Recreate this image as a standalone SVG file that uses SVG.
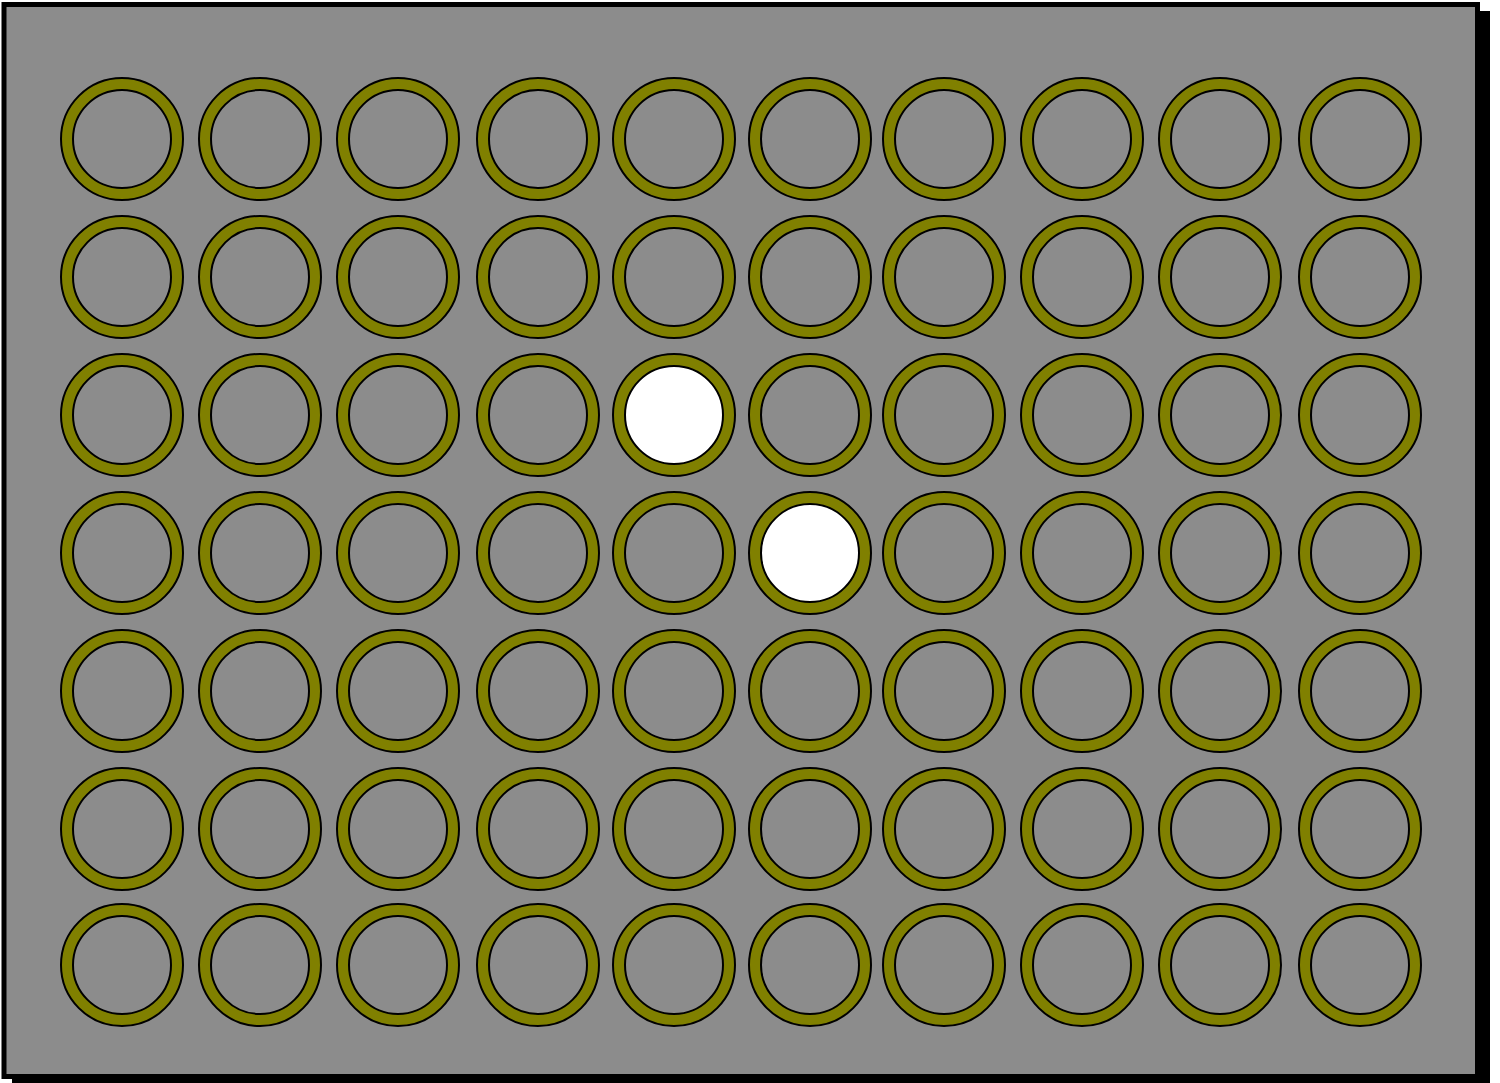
<svg xmlns="http://www.w3.org/2000/svg" width="1500" height="1083" viewBox="0 0 1500 1083">
<style>
.ring{fill:#808000;stroke:#000;stroke-width:2}
.hole{fill:#8c8c8c;stroke:#000;stroke-width:2}
.lit{fill:#ffffff;stroke:#000;stroke-width:2}
</style>
<defs>
<g id="w"><circle class="ring" r="61"/><circle class="hole" r="49"/></g>
<g id="wl"><circle class="ring" r="61"/><circle class="lit" r="49"/></g>
</defs>
<rect x="0" y="0" width="1500" height="1083" fill="#ffffff"/>
<g id="plate">
<rect x="12" y="11" width="1478" height="1078" fill="#000"/>
<rect x="4" y="4.5" width="1473.5" height="1072" fill="#8c8c8c" stroke="#000" stroke-width="5"/>
</g>
<g id="wells">
<g id="r1">
<use href="#w" x="122" y="139"/><use href="#w" x="260" y="139"/><use href="#w" x="398" y="139"/><use href="#w" x="538" y="139"/><use href="#w" x="674" y="139"/><use href="#w" x="810" y="139"/><use href="#w" x="944" y="139"/><use href="#w" x="1082" y="139"/><use href="#w" x="1220" y="139"/><use href="#w" x="1360" y="139"/>
</g>
<g id="r2">
<use href="#w" x="122" y="277"/><use href="#w" x="260" y="277"/><use href="#w" x="398" y="277"/><use href="#w" x="538" y="277"/><use href="#w" x="674" y="277"/><use href="#w" x="810" y="277"/><use href="#w" x="944" y="277"/><use href="#w" x="1082" y="277"/><use href="#w" x="1220" y="277"/><use href="#w" x="1360" y="277"/>
</g>
<g id="r3">
<use href="#w" x="122" y="415"/><use href="#w" x="260" y="415"/><use href="#w" x="398" y="415"/><use href="#w" x="538" y="415"/><use href="#wl" x="674" y="415"/><use href="#w" x="810" y="415"/><use href="#w" x="944" y="415"/><use href="#w" x="1082" y="415"/><use href="#w" x="1220" y="415"/><use href="#w" x="1360" y="415"/>
</g>
<g id="r4">
<use href="#w" x="122" y="553"/><use href="#w" x="260" y="553"/><use href="#w" x="398" y="553"/><use href="#w" x="538" y="553"/><use href="#w" x="674" y="553"/><use href="#wl" x="810" y="553"/><use href="#w" x="944" y="553"/><use href="#w" x="1082" y="553"/><use href="#w" x="1220" y="553"/><use href="#w" x="1360" y="553"/>
</g>
<g id="r5">
<use href="#w" x="122" y="691"/><use href="#w" x="260" y="691"/><use href="#w" x="398" y="691"/><use href="#w" x="538" y="691"/><use href="#w" x="674" y="691"/><use href="#w" x="810" y="691"/><use href="#w" x="944" y="691"/><use href="#w" x="1082" y="691"/><use href="#w" x="1220" y="691"/><use href="#w" x="1360" y="691"/>
</g>
<g id="r6">
<use href="#w" x="122" y="829"/><use href="#w" x="260" y="829"/><use href="#w" x="398" y="829"/><use href="#w" x="538" y="829"/><use href="#w" x="674" y="829"/><use href="#w" x="810" y="829"/><use href="#w" x="944" y="829"/><use href="#w" x="1082" y="829"/><use href="#w" x="1220" y="829"/><use href="#w" x="1360" y="829"/>
</g>
<g id="r7">
<use href="#w" x="122" y="965"/><use href="#w" x="260" y="965"/><use href="#w" x="398" y="965"/><use href="#w" x="538" y="965"/><use href="#w" x="674" y="965"/><use href="#w" x="810" y="965"/><use href="#w" x="944" y="965"/><use href="#w" x="1082" y="965"/><use href="#w" x="1220" y="965"/><use href="#w" x="1360" y="965"/>
</g>
</g>
</svg>
